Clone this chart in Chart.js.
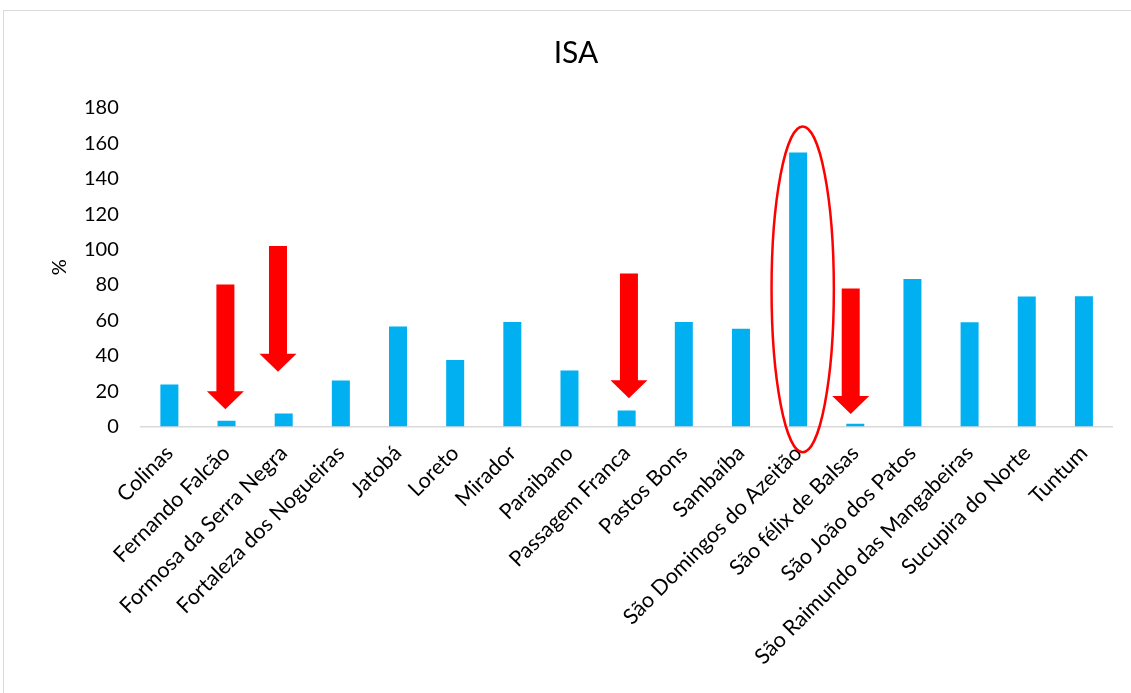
<!DOCTYPE html>
<html>
<head>
<meta charset="utf-8">
<script src="https://cdn.jsdelivr.net/npm/chart.js@4.4.1/dist/chart.umd.min.js"></script>
<style>
	html, body { margin: 0; padding: 0; background: #fff; overflow: hidden; }
	#frame { position: absolute; left: 3px; top: 10px; width: 1150px; height: 700px; border: 1px solid #d9d9d9; }
	#wrap { position: absolute; left: 0; top: 0; width: 1144px; height: 682px; }
</style>
</head>
<body>
<div id="frame"><div id="wrap"><canvas id="chart"></canvas></div></div>
<script>
const municipios = [
	`Colinas`, `Fernando Falcão`, `Formosa da Serra Negra`, `Fortaleza dos Nogueiras`,
	`Jatobá`, `Loreto`, `Mirador`, `Paraibano`, `Passagem Franca`, `Pastos Bons`,
	`Sambaíba`, `São Domingos do Azeitão`, `São félix de Balsas`, `São João dos Patos`,
	`São Raimundo das Mangabeiras`, `Sucupira do Norte`, `Tuntum`
];
const isaValues = [23.8, 3.3, 7.3, 26, 56.5, 37.6, 59, 31.6, 9, 59, 55.3, 154.8, 1.6, 83.4, 58.9, 73.5, 73.6];
const yTicks = [0, 20, 40, 60, 80, 100, 120, 140, 160, 180];

// red arrows: position on the category axis, value at the tail, value at the tip
const arrowAt = [0.98, 1.9, 8.04, 11.92];
const arrowFrom = [80.3, 102, 86.5, 78];
const arrowTo = [9.8, 31, 15.9, 7];

// ellipse round the highest bar: centre (category, value) and radii (categories, value)
const ellipseCenter = [11.08, 77.5];
const ellipseRadius = [0.545, 92];

const FONT = `Lato, "Open Sans", sans-serif`;

const highlights = {
	id: `highlights`,
	afterDatasetsDraw(chart) {
		const {ctx, scales: {x, y}} = chart;
		const x0 = x.getPixelForValue(0);
		const step = x.getPixelForValue(1) - x0;
		const shaft = 18, headW = 37, headH = 18;
		ctx.save();
		ctx.fillStyle = `#ff0000`;
		arrowAt.forEach((pos, i) => {
			const cx = x0 + pos * step;
			const top = y.getPixelForValue(arrowFrom[i]);
			const tip = y.getPixelForValue(arrowTo[i]);
			ctx.beginPath();
			ctx.moveTo(cx - shaft / 2, top);
			ctx.lineTo(cx + shaft / 2, top);
			ctx.lineTo(cx + shaft / 2, tip - headH);
			ctx.lineTo(cx + headW / 2, tip - headH);
			ctx.lineTo(cx, tip);
			ctx.lineTo(cx - headW / 2, tip - headH);
			ctx.lineTo(cx - shaft / 2, tip - headH);
			ctx.closePath();
			ctx.fill();
		});
		const ex = x0 + ellipseCenter[0] * step;
		const ey = y.getPixelForValue(ellipseCenter[1]);
		const rx = ellipseRadius[0] * step;
		const ry = y.getPixelForValue(0) - y.getPixelForValue(ellipseRadius[1]);
		ctx.strokeStyle = `#ff0000`;
		ctx.lineWidth = 2.5;
		ctx.beginPath();
		ctx.ellipse(ex, ey, rx, ry, 0, 0, Math.PI * 2);
		ctx.stroke();
		ctx.restore();
	}
};

new Chart(document.getElementById(`chart`), {
	type: `bar`,
	data: {
		labels: municipios,
		datasets: [{
			label: `ISA`,
			data: isaValues,
			backgroundColor: `#00b0f0`,
			borderWidth: 0,
			barPercentage: 0.315,
			categoryPercentage: 1
		}]
	},
	options: {
		responsive: true,
		maintainAspectRatio: false,
		animation: false,
		layout: { padding: { left: 35.5, right: 35.5, top: 0, bottom: 0 } },
		plugins: {
			legend: { display: false },
			tooltip: { enabled: false },
			title: {
				display: true,
				text: `ISA`,
				color: `#000`,
				font: { family: FONT, size: 30, weight: `normal` },
				padding: { top: 24, bottom: 37 }
			}
		},
		scales: {
			x: {
				grid: { display: false, drawTicks: false },
				border: { display: true, color: `#d9d9d9`, width: 1.5 },
				ticks: {
					color: `#000`,
					font: { family: FONT, size: 21.5 },
					maxRotation: 45,
					minRotation: 45,
					autoSkip: false,
					padding: 14
				},
				afterFit: s => { s.height = 266.5; }
			},
			y: {
				min: 0,
				max: 180,
				grid: { display: false, drawTicks: false },
				border: { display: false },
				ticks: {
					color: `#000`,
					font: { family: FONT, size: 20 },
					padding: 22
				},
				afterBuildTicks: s => { s.ticks = yTicks.map(v => ({value: v})); },
				title: {
					display: true,
					text: `%`,
					color: `#000`,
					font: { family: FONT, size: 20 },
					padding: { top: 8, bottom: 0 }
				},
				afterFit: s => { s.width = 101.3; }
			}
		}
	},
	plugins: [highlights]
});
</script>
</body>
</html>
